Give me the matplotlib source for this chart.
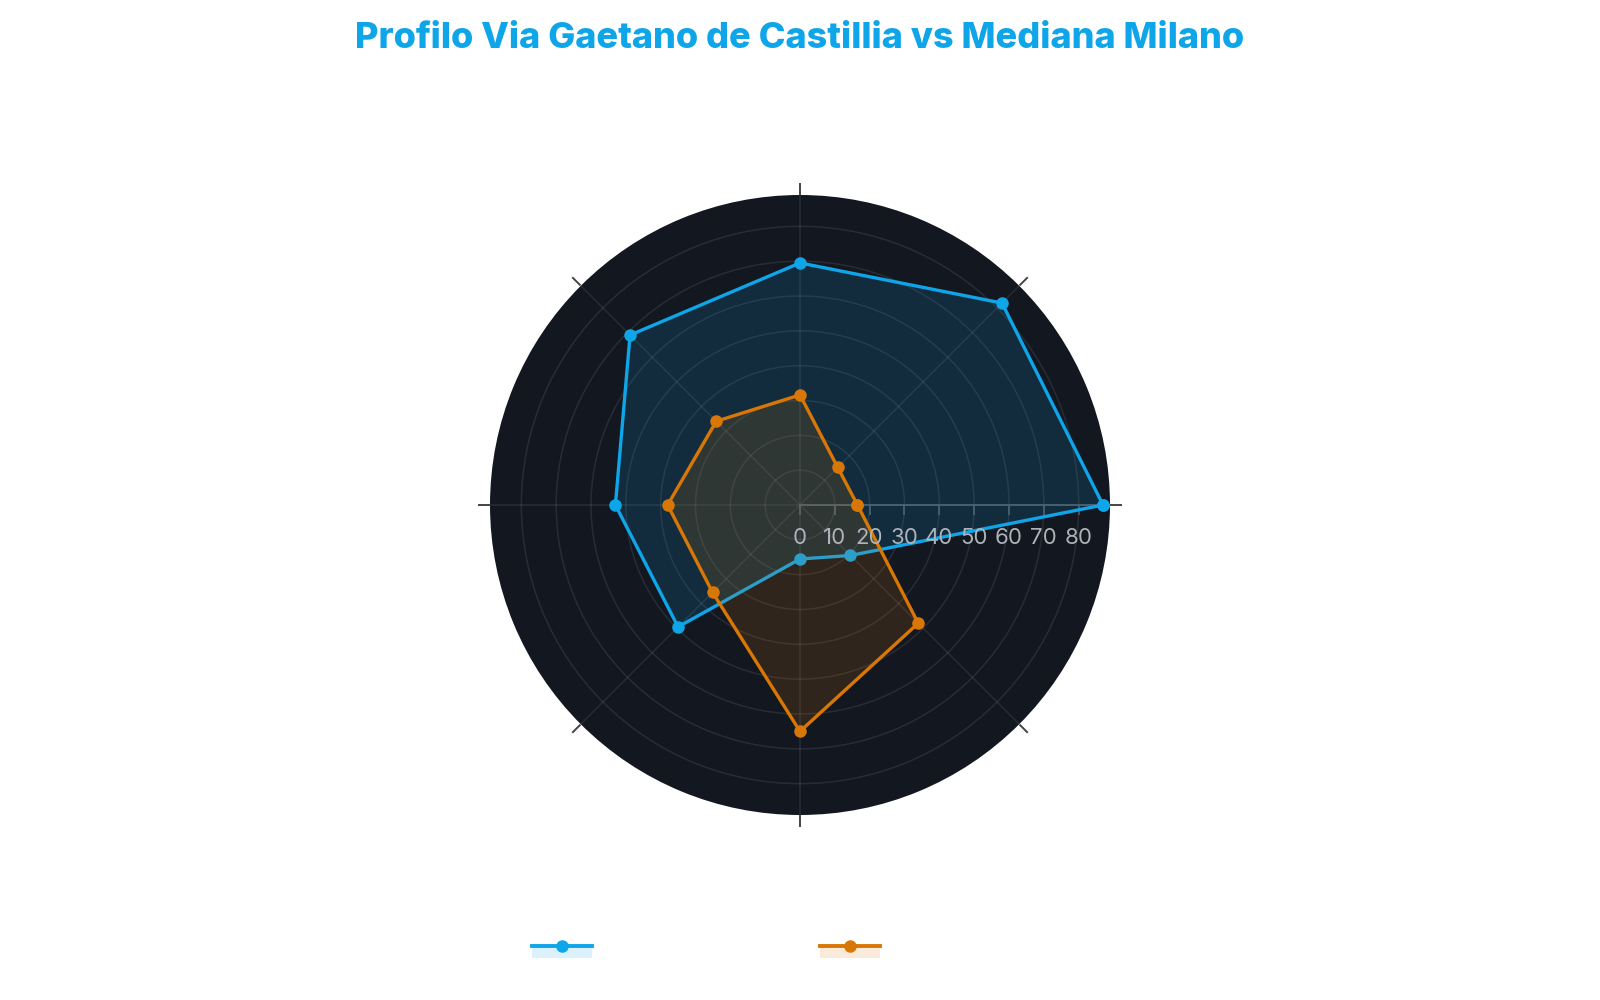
import numpy as np
import matplotlib
matplotlib.use("Agg")
import matplotlib.pyplot as plt
from matplotlib.legend_handler import HandlerBase
from matplotlib.lines import Line2D
from matplotlib.patches import Rectangle
from matplotlib.transforms import offset_copy

# valori (8 assi, partenza a est, senso antiorario)
via_values = [87, 82, 69.5, 69, 53, 49.5, 15.5, 20.5]
milano_values = [16.5, 15.3, 31.6, 34, 38, 35.5, 65, 48]
series_names = ["Via Gaetano de Castillia", "Mediana Milano"]
r_ticks = [0, 10, 20, 30, 40, 50, 60, 70, 80]
r_max = 89

BLUE = "#0ea5e9"
ORANGE = "#d97706"
BG = "#131720"

plt.rcParams["font.family"] = ["Inter", "DejaVu Sans"]

fig = plt.figure(figsize=(16, 10), dpi=100)
fig.patch.set_facecolor("white")

# polar area: centre (800, 505) px, radius 310 px
ax = fig.add_axes([490 / 1600, 185 / 1000, 620 / 1600, 620 / 1000], projection="polar")
ax.set_facecolor(BG)
ax.spines["polar"].set_visible(False)

n = len(via_values)
angles = np.arange(n) * 2 * np.pi / n
closed = np.append(angles, angles[0])


def draw_series(values, color, z):
    vals = np.append(values, values[0])
    ax.fill(closed, vals, color=color, alpha=0.15, zorder=z, linewidth=0)
    ax.plot(closed, vals, color=color, linewidth=2.4, marker="o",
            markersize=8, zorder=z + 1)


draw_series(via_values, BLUE, 3)
draw_series(milano_values, ORANGE, 5)

ax.set_ylim(0, r_max)
ax.set_xticks(angles)
ax.set_xticklabels([""] * n)
ax.tick_params(axis="x", length=0)
ax.set_yticks(r_ticks)
ax.set_yticklabels([])
ax.tick_params(axis="y", length=0)
ax.grid(True, color="white", alpha=0.09, linewidth=1.1)

# small angular tick marks just outside the disc
for a in angles:
    ax.plot([a, a], [r_max + 0.4, r_max + 3.2], color="#444444",
            linewidth=1.4, clip_on=False, zorder=1)

# radial axis line and tick marks at angle 0
ax.axvline(0, color="#50555e", linewidth=1.4, zorder=2)
ax.plot(np.zeros(len(r_ticks)), r_ticks, linestyle="none",
        marker=[(0, 0), (0, -1)], markersize=14, markeredgewidth=1.3,
        markeredgecolor="#50555e", zorder=2)

label_tr = offset_copy(ax.transData, fig=fig, y=-33, units="dots")
for r in r_ticks:
    ax.text(0, r, str(r), transform=label_tr, ha="center", va="center",
            fontsize=16, color="#aeb2b9", zorder=10)

fig.text(0.5, 1 - 39 / 1000, "Profilo Via Gaetano de Castillia vs Mediana Milano",
         ha="center", va="center", fontsize=26, fontweight="heavy", color=BLUE)


class FillLineHandler(HandlerBase):
    def create_artists(self, legend, orig_handle, xdescent, ydescent,
                       width, height, fontsize, trans):
        color = orig_handle.get_color()
        x0, y0 = -xdescent, -ydescent
        rect = Rectangle((x0, y0), width, height, facecolor=color,
                         alpha=0.15, edgecolor="none", transform=trans)
        line = Line2D([x0, x0 + width], [y0 + height, y0 + height],
                      color=color, linewidth=2.8, transform=trans)
        dot = Line2D([x0 + width / 2], [y0 + height], marker="o",
                     markersize=8, color=color, linestyle="none",
                     transform=trans)
        return [rect, line, dot]


legend_x = [532 / 1600, 820 / 1600]
for name, color, lx in zip(series_names, [BLUE, ORANGE], legend_x):
    h = Line2D([], [], color=color)
    leg = fig.legend([h], [name], loc="center left",
                     bbox_to_anchor=(lx, 1 - 953 / 1000),
                     frameon=False, borderpad=0, borderaxespad=0,
                     handlelength=60 / 14, handleheight=9 / 10,
                     handletextpad=0.6, fontsize=10,
                     handler_map={Line2D: FillLineHandler()})
    for t in leg.get_texts():
        t.set_color("white")

fig.savefig("out.png", dpi=100, facecolor="white")
